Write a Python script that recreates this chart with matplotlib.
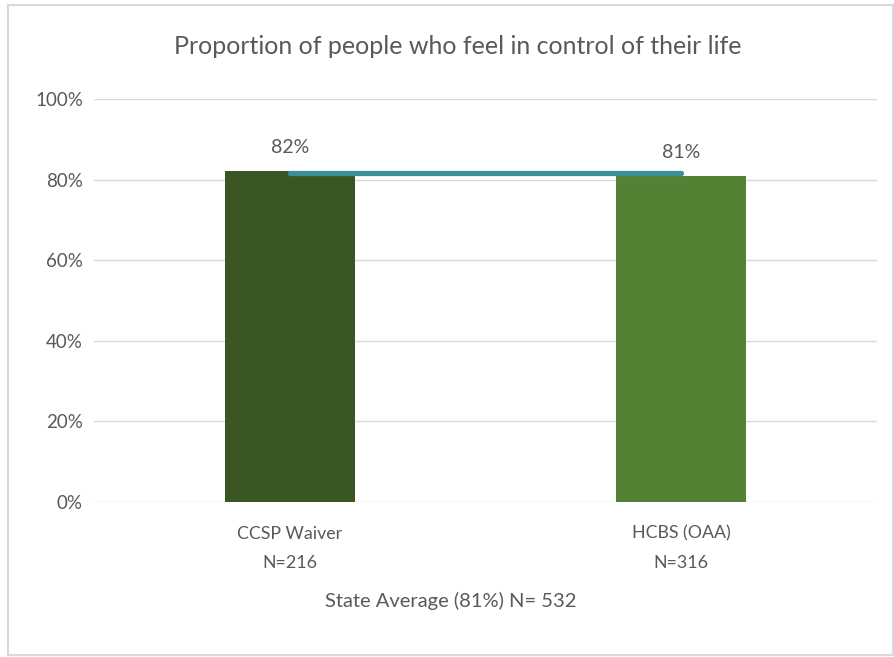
import matplotlib.pyplot as plt
from matplotlib.patches import Rectangle

# chart data
categories = ['CCSP Waiver\nN=216', 'HCBS (OAA)\nN=316']
values = [82.2, 80.9]
value_labels = ['82%', '81%']
state_avg = 81.6
bar_colors = ['#3A5723', '#548235']
y_ticks = [0, 20, 40, 60, 80, 100]

plt.rcParams['font.family'] = ['Lato', 'DejaVu Sans']
text_color = '#595959'

fig = plt.figure(figsize=(8.95, 6.57), dpi=100)
ax = fig.add_axes([0.105, 0.236, 0.875, 0.613])

x = list(range(len(categories)))
ax.bar(x, values, width=0.332, color=bar_colors, zorder=2)
ax.plot(x, [state_avg] * len(x), color='#3A8F9A', linewidth=3.8,
        solid_capstyle='round', zorder=3)

for xi, v, lab in zip(x, values, value_labels):
    ax.annotate(lab, (xi, v), xytext=(0, 11), textcoords='offset points',
                ha='center', va='bottom', fontsize=14, color=text_color)

ax.set_xlim(-0.5, 1.5)
ax.set_ylim(0, 100)
ax.set_yticks(y_ticks)
ax.set_yticklabels([f'{t}%' for t in y_ticks], fontsize=13.5, color=text_color)
ax.set_xticks(x)
ax.set_xticklabels(categories, fontsize=12.8, color=text_color, linespacing=2.0)
ax.tick_params(length=0, pad=8)
ax.tick_params(axis='x', pad=17)
ax.grid(axis='y', color='#D9D9D9', linewidth=1, zorder=0)
for s in ax.spines.values():
    s.set_visible(False)

fig.text(0.511, 0.929, 'Proportion of people who feel in control of their life',
         ha='center', va='center', fontsize=18, color=text_color)
fig.text(0.504, 0.086, 'State Average (81%) N= 532', ha='center', va='center',
         fontsize=14.5, color=text_color)

# outer chart border
fig.patches.append(Rectangle((0.009, 0.003), 0.989, 0.989, transform=fig.transFigure,
                             fill=False, edgecolor='#D9D9D9', linewidth=1.5))

fig.savefig('out.png', dpi=100)
